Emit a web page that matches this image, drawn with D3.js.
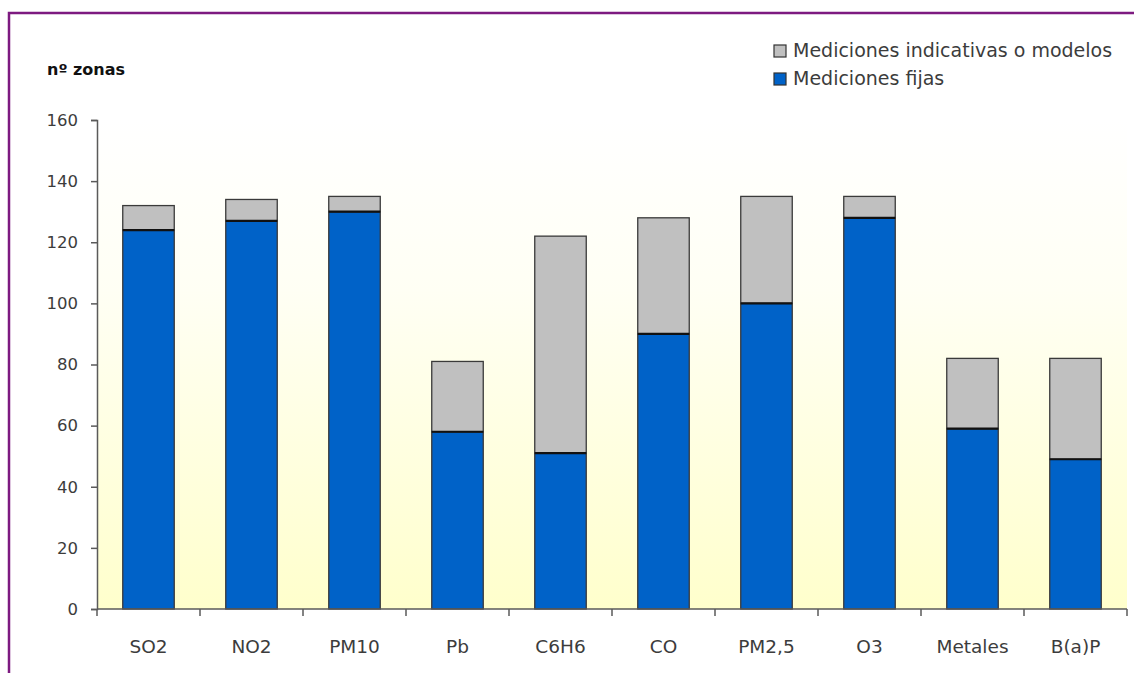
<!DOCTYPE html>
<html>
<head>
<meta charset="utf-8">
<script src="https://cdn.jsdelivr.net/npm/d3@7"></script>
<style>
  html, body { margin: 0; padding: 0; background: #ffffff; }
  svg { display: block; }
</style>
</head>
<body>
<svg id="chart" width="1134" height="673"></svg>
<script>
// Zones by pollutant and type of assessment
const categories = ["SO2", "NO2", "PM10", "Pb", "C6H6", "CO", "PM2,5", "O3", "Metales", "B(a)P"];
const fixedMeasurements = [124, 127, 130, 58, 51, 90, 100, 128, 59, 49];
const indicativeOrModels = [8, 7, 5, 23, 71, 38, 35, 7, 23, 33];
const yTicks = [0, 20, 40, 60, 80, 100, 120, 140, 160];
const seriesNames = ["Mediciones fijas", "Mediciones indicativas o modelos"];
const seriesColors = ["#0062c8", "#c0c0c0"];

const svg = d3.select("#chart");
const W = 1134, H = 673;
const plot = { left: 97, right: 1127, top: 120, bottom: 609 };

// Frame
svg.append("path")
  .attr("d", `M9,${H} L9,13 L${W},13`)
  .attr("fill", "none")
  .attr("stroke", "#7d1a80")
  .attr("stroke-width", 2.5);

// Plot background gradient
const defs = svg.append("defs");
const grad = defs.append("linearGradient")
  .attr("id", "plotBg").attr("x1", 0).attr("y1", 0).attr("x2", 0).attr("y2", 1);
grad.append("stop").attr("offset", "0%").attr("stop-color", "#ffffff");
grad.append("stop").attr("offset", "35%").attr("stop-color", "#fffff4");
grad.append("stop").attr("offset", "100%").attr("stop-color", "#ffffcc");

svg.append("rect")
  .attr("x", plot.left).attr("y", plot.top)
  .attr("width", plot.right - plot.left).attr("height", plot.bottom - plot.top)
  .attr("fill", "url(#plotBg)");

const x = d3.scaleBand().domain(categories).range([plot.left, plot.right]).paddingInner(0.5).paddingOuter(0.25);
const y = d3.scaleLinear().domain([0, 160]).range([plot.bottom, plot.top]);

// Stacked data
const rows = categories.map((c, i) => ({ cat: c, fixed: fixedMeasurements[i], ind: indicativeOrModels[i] }));
const stack = d3.stack().keys(["fixed", "ind"])(rows);

const gBars = svg.append("g");
stack.forEach((layer, li) => {
  gBars.selectAll(null)
    .data(layer)
    .join("rect")
    .attr("x", d => x(d.data.cat))
    .attr("width", x.bandwidth())
    .attr("y", d => y(d[1]))
    .attr("height", d => y(d[0]) - y(d[1]))
    .attr("fill", seriesColors[li])
    .attr("stroke", "#3a3a3a")
    .attr("stroke-width", 1.3);
});
// Dark separator between the two segments
gBars.selectAll(null)
  .data(stack[0])
  .join("line")
  .attr("x1", d => x(d.data.cat))
  .attr("x2", d => x(d.data.cat) + x.bandwidth())
  .attr("y1", d => y(d[1]))
  .attr("y2", d => y(d[1]))
  .attr("stroke", "#111")
  .attr("stroke-width", 2.2);

const axisColor = "#5a5a5a";
const labelColor = "#3c3c3c";
const font = "'DejaVu Sans', Verdana, sans-serif";

// Y axis
const yAxis = svg.append("g")
  .attr("transform", `translate(${plot.left},0)`)
  .call(d3.axisLeft(y).tickValues(yTicks).tickSize(6).tickSizeOuter(6).tickPadding(13));
yAxis.select(".domain").attr("stroke", axisColor).attr("stroke-width", 1.5);
yAxis.selectAll(".tick line").attr("stroke", axisColor).attr("stroke-width", 1.5);
yAxis.selectAll(".tick text")
  .attr("fill", labelColor)
  .style("font-family", font)
  .style("font-size", "16.5px");

// X axis: ticks at band boundaries
const gx = svg.append("g").attr("transform", `translate(0,${plot.bottom})`);
gx.append("line")
  .attr("x1", plot.left).attr("x2", plot.right)
  .attr("y1", 0).attr("y2", 0)
  .attr("stroke", axisColor).attr("stroke-width", 1.5);
const boundaries = categories.map(c => x(c) - x.bandwidth() / 2).concat([plot.right]);
gx.selectAll(null)
  .data(boundaries)
  .join("line")
  .attr("x1", d => d).attr("x2", d => d)
  .attr("y1", 0).attr("y2", 7)
  .attr("stroke", axisColor).attr("stroke-width", 1.5);
gx.selectAll(null)
  .data(categories)
  .join("text")
  .attr("x", d => x(d) + x.bandwidth() / 2)
  .attr("y", 44)
  .attr("text-anchor", "middle")
  .attr("fill", labelColor)
  .style("font-family", font)
  .style("font-size", "18.5px")
  .text(d => d);

// Axis title
svg.append("text")
  .attr("x", 47).attr("y", 75)
  .attr("fill", "#111")
  .style("font-family", font)
  .style("font-size", "16px")
  .style("font-weight", "bold")
  .text("nº zonas");

// Legend
const legendItems = [
  { name: seriesNames[1], color: seriesColors[1], y: 57 },
  { name: seriesNames[0], color: seriesColors[0], y: 85 }
];
const lg = svg.append("g");
legendItems.forEach(it => {
  lg.append("rect")
    .attr("x", 774).attr("y", it.y - 12)
    .attr("width", 12).attr("height", 12)
    .attr("fill", it.color)
    .attr("stroke", "#333").attr("stroke-width", 1.2);
  lg.append("text")
    .attr("x", 793).attr("y", it.y)
    .attr("fill", labelColor)
    .style("font-family", font)
    .style("font-size", "19px")
    .text(it.name);
});
</script>
</body>
</html>
